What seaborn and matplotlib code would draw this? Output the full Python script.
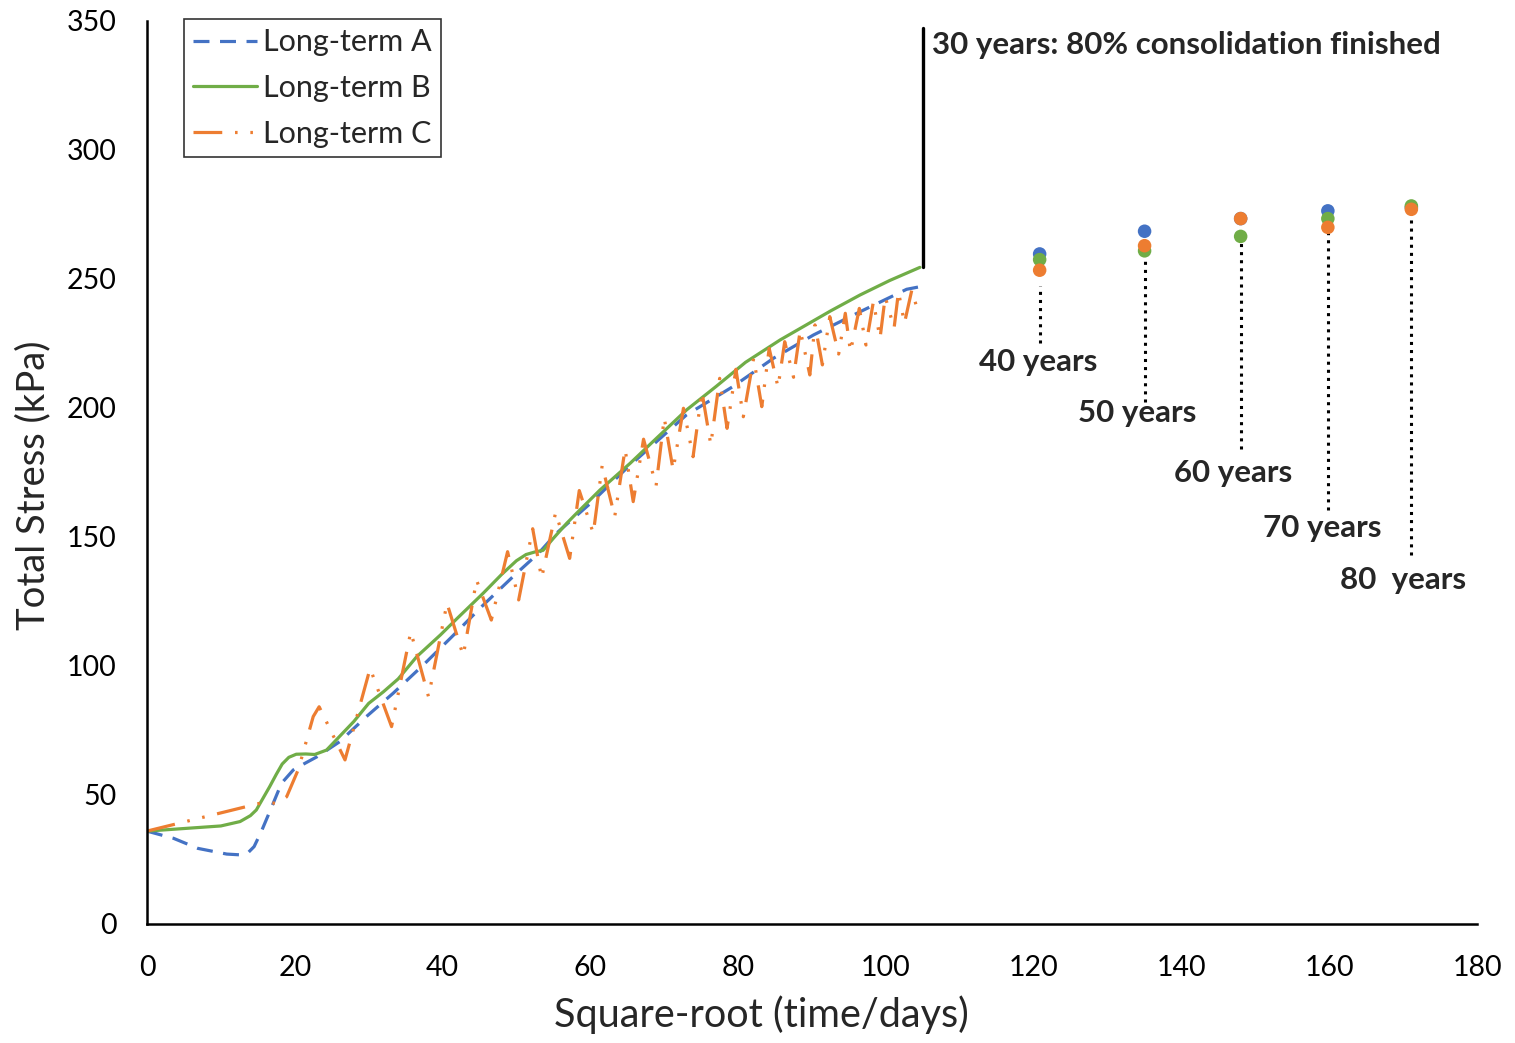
import matplotlib
matplotlib.use("Agg")
import matplotlib.pyplot as plt
import seaborn as sns
import pandas as pd

# --- data ---
a_x = [0, 3.6, 6.9, 10.8, 12.6, 13.6, 14.5, 15.5, 16.9, 18.2, 19.8, 21.2, 23, 26.1, 29.7, 33.3,
       37.4, 41.5, 45.5, 50, 53, 55.4, 60, 64.9, 73, 79.3, 84.8, 90.2, 96.5, 102.8, 104.6]
a_y = [36, 33.2, 29.3, 27.1, 26.8, 27.4, 30.0, 36.0, 45.5, 54.5, 59.7, 62, 64.8, 70.7, 80.4, 89.4,
       100.4, 112, 123.6, 135.9, 143.7, 151.4, 163, 176.6, 197.3, 208.3, 219.3, 228.3, 237.3, 246.0, 247]

b_x = [0, 5, 10, 12.6, 14.0, 14.8, 16.6, 17.5, 18.3, 19.2, 20.2, 21.5, 22.7, 24.3, 26, 28, 30,
       32, 34, 36.5, 39.7, 42, 45.5, 48, 50, 51.3, 52.5, 53.6, 55, 56.8, 58, 61.3, 65.4, 69, 73,
       77, 81, 85.7, 88.8, 92.5, 96.5, 100.5, 104.6]
b_y = [36, 37, 38, 39.7, 42.0, 44.2, 53.2, 58.0, 62.0, 64.6, 65.8, 65.9, 65.7, 67.4, 72.5, 78.5,
       85.5, 90, 95, 103.6, 112, 118.5, 128.2, 135.5, 140.8, 143.2, 144.2, 144.8, 149.5, 155.3,
       158.8, 168.2, 178.6, 188.4, 199.2, 208.3, 217.7, 226.4, 231.5, 237.6, 243.8, 249.4, 254.5]

c_x = [0, 16, 17.6, 18.9, 20.5, 22.5, 23.3, 26.8, 30.2, 33.1, 35.7, 38.1, 40.6, 42.8, 44.6,
       46.6, 48.8, 50.3, 52.2, 53.4, 55.3, 57.2, 58.5, 60.4, 61.6, 63.3, 64.7, 65.8, 67.2, 68.9,
       70.0, 71.2, 72.6, 73.9, 75.1, 76.3, 77.5, 78.5, 79.7, 80.7, 82.1, 83.2, 84.2, 85.4, 86.3,
       87.5, 88.4, 89.7, 90.4, 91.4, 92.4, 93.6, 94.5, 95.2, 96.4, 97.3, 98.3, 99.2, 99.9, 101.1,
       101.7, 102.5, 103.5, 104.4]
c_y = [36, 47.3, 46.7, 49.3, 60, 80.4, 84.2, 63.6, 99.1, 76.5, 113.3, 88.1, 124.3, 104, 133.3,
       117.8, 144.3, 125.6, 153.2, 134, 159.5, 141.7, 168, 151.4, 177.7, 157.9, 184.1, 163.7, 187.9, 169.9,
       196.2, 176, 199.9, 181.1, 206.3, 185.7, 211.5, 192.1, 215, 196.6, 219.3, 200.5, 223.1, 208, 225.7,
       211.9, 230.2, 212.8, 232.2, 216.7, 235.4, 220.9, 236.7, 221.8, 238.6, 224.4, 241.2, 227, 243.1, 230.9,
       245.1, 232.8, 245.7, 236.7]

# predictions at later times
years = ["40 years", "50 years", "60 years", "70 years", "80  years"]
pred_x = [120.8, 135.0, 148.0, 159.8, 171.1]
pred_a = [259.7, 268.5, 273.4, 276.4, 277.7]
pred_b = [257.5, 260.9, 266.5, 273.4, 278.3]
pred_c = [253.4, 262.9, 273.4, 270.0, 277.0]
drop_top = [247.4, 260.6, 265.1, 269.2, 273.5]
drop_bottom = [225.2, 202.3, 184.1, 160.5, 143.0]
label_x = [120.6, 134.0, 147.0, 159.0, 170.0]
label_y = [217.8, 198.1, 174.8, 153.5, 133.3]

end_x = 105
end_top = 347.3

BLUE = "#4472C4"
GREEN = "#70AD47"
ORANGE = "#ED7D31"

sns.set_style("white")
plt.rcParams["font.family"] = ["Lato", "DejaVu Sans"]

fig = plt.figure(figsize=(15.15, 10.43), dpi=100)
ax = fig.add_axes([0.097, 0.1141, 0.878, 0.8658])

sns.lineplot(x=a_x, y=a_y, ax=ax, color=BLUE, lw=2.3, linestyle=(0, (5, 3.3)),
             estimator=None, sort=False, label="Long-term A")
sns.lineplot(x=b_x, y=b_y, ax=ax, color=GREEN, lw=2.3,
             estimator=None, sort=False, label="Long-term B")
sns.lineplot(x=c_x, y=c_y, ax=ax, color=ORANGE, lw=2.3,
             linestyle=(0, (9, 4, 0.8, 4, 0.8, 4)),
             estimator=None, sort=False, label="Long-term C")

pts = pd.DataFrame({"x": pred_x * 3,
                    "y": pred_a + pred_b + pred_c,
                    "s": ["A"] * 5 + ["B"] * 5 + ["C"] * 5})
sns.scatterplot(data=pts, x="x", y="y", hue="s", palette=[BLUE, GREEN, ORANGE],
                s=95, edgecolor="none", ax=ax, legend=False, zorder=4)

ax.vlines(pred_x, drop_bottom, drop_top, colors="black", linestyles=":", lw=2.2)
for lx, ly, t in zip(label_x, label_y, years):
    ax.text(lx, ly, t, ha="center", va="center", fontsize=22.5, fontweight="bold")

ax.plot([end_x, end_x], [b_y[-1], end_top], color="black", lw=2.4)
ax.text(106.2, 340.7, "30 years: 80% consolidation finished", ha="left", va="center",
        fontsize=22.5, fontweight="bold")

ax.set_xlim(0, 180)
ax.set_ylim(0, 350)
ax.set_xticks(range(0, 181, 20))
ax.set_yticks(range(0, 351, 50))
ax.tick_params(direction="in", length=8, width=1.8, labelsize=20.5, pad=22, colors="black")
for side in ["top", "right"]:
    ax.spines[side].set_visible(False)
for side in ["left", "bottom"]:
    ax.spines[side].set_color("black")
    ax.spines[side].set_linewidth(1.8)

ax.set_xlabel("Square-root (time/days)", fontsize=28.5, va="center")
ax.set_ylabel("Total Stress (kPa)", fontsize=27.5, va="center")
ax.xaxis.set_label_coords(0.462, -0.1008)
ax.yaxis.set_label_coords(-0.0857, 0.486)

leg = ax.legend(loc="upper left", bbox_to_anchor=(0.0278, 1.002), fontsize=22,
                frameon=True, fancybox=False, edgecolor="black", handlelength=2.1,
                handletextpad=0.2, borderpad=0.3, labelspacing=0.58, borderaxespad=0)
leg.get_frame().set_linewidth(1.2)

fig.savefig("out.png", dpi=100)
